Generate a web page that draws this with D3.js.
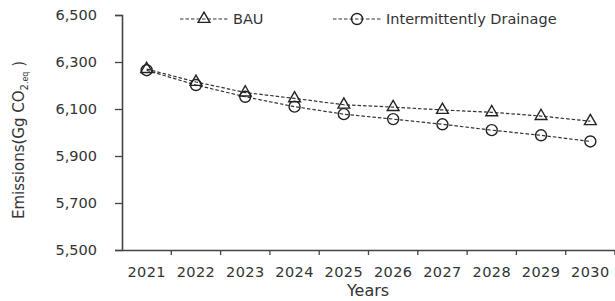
<!DOCTYPE html>
<html>
<head>
<meta charset="utf-8">
<script src="https://cdn.jsdelivr.net/npm/d3@7"></script>
<style>
body { margin: 0; background: #fff; }
text { font-family: "DejaVu Sans", Verdana, sans-serif; fill: #333; }
</style>
</head>
<body>
<script>
var years = [2021, 2022, 2023, 2024, 2025, 2026, 2027, 2028, 2029, 2030];
var bau = [6270, 6215, 6170, 6145, 6118, 6108, 6096, 6086, 6070, 6048];
var drainage = [6265, 6202, 6152, 6110, 6078, 6057, 6035, 6010, 5988, 5962];
var yTicks = [5500, 5700, 5900, 6100, 6300, 6500];
var seriesNames = ["BAU", "Intermittently Drainage"];

var w = 615, h = 301;

var svg = d3.select("body").append("svg")
    .attr("width", w)
    .attr("height", h);

/*Scales*/
var x = d3.scaleBand().domain(years).range([122, 615]);
var y = d3.scaleLinear().domain([5500, 6500]).range([250, 15]);

/*Axes*/
var yAxis = d3.axisLeft(y)
    .tickValues(yTicks)
    .tickFormat(d3.format(","))
    .tickSize(7)
    .tickPadding(18);

var gy = svg.append("g")
    .attr("transform", "translate(122,0)")
    .call(yAxis);
gy.select(".domain").attr("stroke", "#444").attr("stroke-width", 1.6);
gy.selectAll(".tick line").attr("stroke", "#444").attr("stroke-width", 1.3);
gy.selectAll("text").style("font-size", "14.5px").attr("fill", "#333");

var xAxis = d3.axisBottom(x).tickSize(0).tickPadding(17);
var gx = svg.append("g")
    .attr("transform", "translate(0,250)")
    .call(xAxis);
gx.select(".domain").attr("stroke", "#444").attr("stroke-width", 1.6);
gx.selectAll("text").style("font-size", "14.5px").style("letter-spacing", "0.4px").attr("fill", "#333");

// tick marks between categories
gx.selectAll(".bound")
    .data(years)
    .enter().append("line")
    .attr("class", "bound")
    .attr("x1", function(d) { return x(d) + x.bandwidth(); })
    .attr("x2", function(d) { return x(d) + x.bandwidth(); })
    .attr("y1", 0)
    .attr("y2", 5)
    .attr("stroke", "#444")
    .attr("stroke-width", 1.3);

/*Axis titles*/
svg.append("text")
    .attr("x", 368)
    .attr("y", 296)
    .attr("text-anchor", "middle")
    .style("font-size", "16px")
    .text("Years");

var yt = svg.append("text")
    .attr("transform", "translate(24,140) rotate(-90)")
    .attr("text-anchor", "middle")
    .style("font-size", "15px");
yt.append("tspan").text("Emissions(Gg CO");
yt.append("tspan").attr("dy", 4).style("font-size", "10px").text("2");
yt.append("tspan").attr("dy", 0).style("font-size", "8px").text(".eq");
yt.append("tspan").attr("dy", -4).text(" )");

/*Lines*/
var line = d3.line()
    .x(function(d, i) { return x(years[i]) + x.bandwidth() / 2; })
    .y(function(d) { return y(d); });

[bau, drainage].forEach(function(s) {
    svg.append("path")
        .datum(s)
        .attr("d", line)
        .attr("fill", "none")
        .attr("stroke", "#333")
        .attr("stroke-width", 1.2)
        .attr("stroke-dasharray", "3.5,2");
});

var tri = d3.symbol().type(d3.symbolTriangle).size(60);

svg.selectAll(".tri")
    .data(bau)
    .enter().append("path")
    .attr("class", "tri")
    .attr("d", tri)
    .attr("transform", function(d, i) {
        return "translate(" + (x(years[i]) + x.bandwidth() / 2) + "," + y(d) + ")";
    })
    .attr("fill", "none")
    .attr("stroke", "#222")
    .attr("stroke-width", 1.4);

svg.selectAll(".circ")
    .data(drainage)
    .enter().append("circle")
    .attr("class", "circ")
    .attr("cx", function(d, i) { return x(years[i]) + x.bandwidth() / 2; })
    .attr("cy", function(d) { return y(d); })
    .attr("r", 5.5)
    .attr("fill", "none")
    .attr("stroke", "#222")
    .attr("stroke-width", 1.4);

/*Legend*/
var legendX = [180, 333];
seriesNames.forEach(function(name, i) {
    var g = svg.append("g").attr("transform", "translate(" + legendX[i] + ",19)");
    g.append("line")
        .attr("x1", 0).attr("x2", 48)
        .attr("y1", 0).attr("y2", 0)
        .attr("stroke", "#333")
        .attr("stroke-width", 1.2)
        .attr("stroke-dasharray", "3.5,2");
    if (i === 0) {
        g.append("path").attr("d", tri)
            .attr("transform", "translate(24,0)")
            .attr("fill", "none").attr("stroke", "#222").attr("stroke-width", 1.4);
    } else {
        g.append("circle").attr("cx", 24).attr("cy", 0).attr("r", 5.5)
            .attr("fill", "none").attr("stroke", "#222").attr("stroke-width", 1.4);
    }
    g.append("text")
        .attr("x", 53)
        .attr("y", 5)
        .style("font-size", "14.5px")
        .text(name);
});
</script>
</body>
</html>
